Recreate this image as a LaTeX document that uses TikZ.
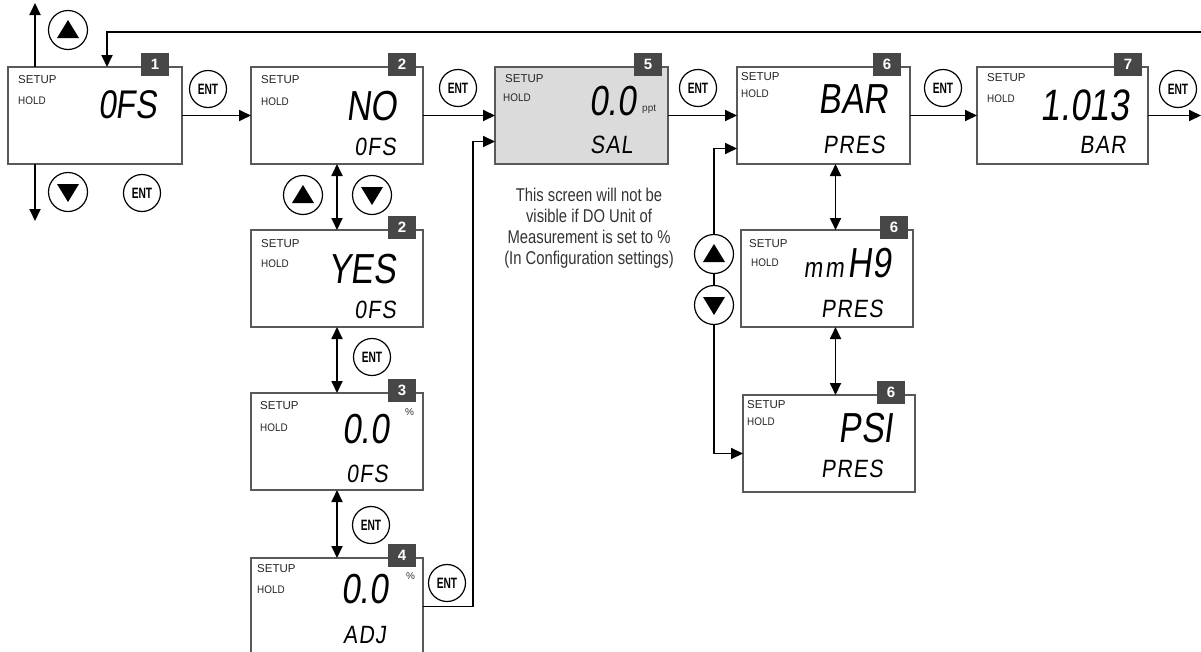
\documentclass[tikz,border=0pt]{standalone}
\usepackage{fontspec}
\setmainfont{Liberation Sans}
\newfontfamily\lcdfont[FakeSlant=0.13,FakeStretch=0.8]{Liberation Sans}
\newfontfamily\lcdsmall[FakeSlant=0.13,FakeStretch=0.85,LetterSpace=5]{Liberation Sans}
\newfontfamily\notefont[FakeStretch=0.8]{Liberation Sans}
\newfontfamily\entfont[FakeStretch=0.68]{Liberation Sans}
\newfontfamily\holdfont[FakeStretch=0.9]{Liberation Sans}
\usetikzlibrary{arrows.meta,calc}
\newcommand\lcdscreen[8][]{%
  \node[screen,#1,minimum width={(#5)-(#3)},minimum height={(#6)-(#4)}] (#2) at ({((#3)+(#5))/2},{((#4)+(#6))/2}) {};
  \node[badge] (#2n) at ($(#2.north east)+(-#8-14,-3)$) {#7};
}
\begin{document}
\begin{tikzpicture}[x=1pt,y=-1pt,
 screen/.style={draw=black!65, line width=1.3pt, fill=white, inner sep=0pt, outer sep=0pt},
 badge/.style={fill=black!72, text=white, font=\bfseries\fontsize{15}{15}\selectfont, minimum width=28pt, minimum height=23pt, inner sep=0pt},
 setup/.style={anchor=base west, inner sep=0pt, text=black!85, font=\fontsize{11.5}{11.5}\selectfont},
 hold/.style={anchor=base west, inner sep=0pt, text=black!85, font=\holdfont\fontsize{11}{11}\selectfont},
 big/.style={anchor=base east, inner sep=0pt, font=\lcdfont\fontsize{42}{42}\selectfont},
 small/.style={anchor=base east, inner sep=0pt, font=\lcdsmall\fontsize{25}{25}\selectfont},
 unit/.style={anchor=base west, inner sep=0pt, text=black!80, font=\fontsize{10}{10}\selectfont},
 btn/.style={circle, draw, line width=1.2pt, fill=white, minimum size=39pt, inner sep=0pt},
 upbtn/.style={btn, path picture={\fill[black] ([shift={(-11pt,-8pt)}]path picture bounding box.center) -- ([shift={(11pt,-8pt)}]path picture bounding box.center) -- ([shift={(0pt,10pt)}]path picture bounding box.center) -- cycle;}},
 dnbtn/.style={btn, path picture={\fill[black] ([shift={(-11pt,8pt)}]path picture bounding box.center) -- ([shift={(11pt,8pt)}]path picture bounding box.center) -- ([shift={(0pt,-10pt)}]path picture bounding box.center) -- cycle;}},
 ent/.style={btn, minimum size=37pt, font=\entfont\bfseries\fontsize{15}{15}\selectfont},
 conn/.style={line width=1.8pt, -{Triangle[length=12pt,width=11pt]}},
 dbl/.style={line width=1.8pt, {Triangle[length=12pt,width=11pt]}-{Triangle[length=12pt,width=11pt]}},
]
\clip (0,0) rectangle (1201,651);

% screens
\lcdscreen{b1}{8}{67}{182}{164}{1}{13}
\lcdscreen{b2}{251}{67}{423}{164}{2}{7}
\lcdscreen{b2y}{251}{230}{423}{327}{2}{7}
\lcdscreen{b3}{251}{393}{423}{490}{3}{7}
\lcdscreen{b4}{251}{558}{423}{655}{4}{7}
\lcdscreen[fill=black!14]{b5}{495}{67}{668}{164}{5}{6}
\lcdscreen{b6}{737}{67}{910}{164}{6}{9}
\lcdscreen{b6m}{741}{230}{913}{327}{6}{5}
\lcdscreen{b6p}{743}{395}{915}{492}{6}{10}
\lcdscreen{b7}{977}{67}{1148}{164}{7}{6}

% screen texts
\node[setup] (b1s) at (18,83) {SETUP};
\node[hold] (b1h) at (18,104) {HOLD};
\node[big,font=\lcdfont\fontsize{40}{40}\selectfont] (b1t) at (157,118) {0FS};

\node[setup] (b2s) at (261,83) {SETUP};
\node[hold] (b2h) at (261,105) {HOLD};
\node[big] (b2t) at (397,120) {NO};
\node[small] (b2u) at (396,155) {0FS};

\node[setup] (b2ys) at (261,247) {SETUP};
\node[hold] (b2yh) at (261,267) {HOLD};
\node[big] (b2yt) at (396,283) {YES};
\node[small] (b2yu) at (396,318) {0FS};

\node[setup] (b3s) at (260,409) {SETUP};
\node[hold] (b3h) at (260,431) {HOLD};
\node[big] (b3t) at (389,443) {0.0};
\node[unit] (b3p) at (405,415) {\%};
\node[small] (b3u) at (388,482) {0FS};

\node[setup] (b4s) at (257,572) {SETUP};
\node[hold] (b4h) at (257,593) {HOLD};
\node[big] (b4t) at (388,603) {0.0};
\node[unit] (b4p) at (406,579) {\%};
\node[small] (b4u) at (386,643) {ADJ};

\node[setup] (b5s) at (505,82) {SETUP};
\node[hold] (b5h) at (503,101) {HOLD};
\node[big] (b5t) at (636,115) {0.0};
\node[unit] (b5p) at (642,111) {ppt};
\node[small] (b5u) at (633,153) {SAL};

\node[setup] (b6s) at (741,80) {SETUP};
\node[hold] (b6h) at (741,97) {HOLD};
\node[big] (b6t) at (888,113) {BAR};
\node[small] (b6u) at (885,153) {PRES};

\node[setup] (b6ms) at (749,247) {SETUP};
\node[hold] (b6mh) at (751,266) {HOLD};
\node[big] (b6mt) at (891,277) {{\fontsize{28}{28}\selectfont m\kern3pt m}\kern4pt H9};
\node[small] (b6mu) at (883,317) {PRES};

\node[setup] (b6ps) at (747,408) {SETUP};
\node[hold] (b6ph) at (747,425) {HOLD};
\node[big] (b6pt) at (893,442) {PSI};
\node[small] (b6pu) at (883,477) {PRES};

\node[setup] (b7s) at (987,81) {SETUP};
\node[hold] (b7h) at (987,102) {HOLD};
\node[big,font=\lcdfont\fontsize{44}{44}\selectfont] (b7t) at (1129,120) {1.013};
\node[small] (b7u) at (1126,153) {BAR};

% note
\node[anchor=north, align=center, inner sep=0pt, text=black!80,
      font=\notefont\fontsize{18.5}{21}\selectfont] (note) at (589,188)
 {This screen will not be\\visible if DO Unit of\\Measurement is set to \%\\(In Configuration settings)};

% connectors
\coordinate (topR) at (1201,32);
\coordinate (upend) at (35,3);
\coordinate (dnend) at (35,221);
\coordinate (outR) at (1201,115.5);
\draw[conn] (topR) -| ($(b1.north)+(12,0)$);
\draw[conn] (b1.north west -| upend) -- (upend);
\draw[conn] (b1.south west -| dnend) -- (dnend);
\draw[conn] (b1.east) -- (b2.west);
\draw[conn] (b2.east) -- (b5.west);
\draw[conn] (b4.east) -- ++(50,0) |- ($(b5.west)+(0,26)$);
\draw[conn] (b5.east) -- (b6.west);
\draw[conn] (b6.east) -- (b7.west);
\draw[conn] (b7.east) -- (outR);
\draw[dbl] (b2.south) -- (b2y.north);
\draw[dbl] (b2y.south) -- (b3.north);
\draw[dbl] (b3.south) -- (b4.north);
\draw[dbl] ([xshift=12pt]b6.south) -- ([xshift=12pt]b6.south |- b6m.north);
\draw[dbl] ([xshift=12pt]b6.south |- b6m.south) -- ([xshift=12pt]b6.south |- b6p.north);
\draw[dbl] ($(b6.west)+(0,33)$) -| ($(b6p.west)+(-29,10)$) -- ($(b6p.west)+(0,10)$);

% buttons
\node[upbtn] (up1) at (68,30) {};
\node[dnbtn] (dn1) at (68,192) {};
\node[ent] (ent1) at (142,193) {ENT};
\node[ent] (ent12) at (208,89) {ENT};
\node[upbtn] (up2) at (303,195) {};
\node[dnbtn] (dn2) at (372,195) {};
\node[ent] (ent23) at (372,357) {ENT};
\node[ent] (ent34) at (371,525) {ENT};
\node[ent] (ent45) at (447,583) {ENT};
\node[ent] (ent25) at (458,88) {ENT};
\node[ent] (ent56) at (698,88) {ENT};
\node[upbtn] (up6) at (714,254) {};
\node[dnbtn] (dn6) at (714,305) {};
\node[ent] (ent67) at (943,88) {ENT};
\node[ent] (ent7o) at (1178,89) {ENT};
\end{tikzpicture}
\end{document}
